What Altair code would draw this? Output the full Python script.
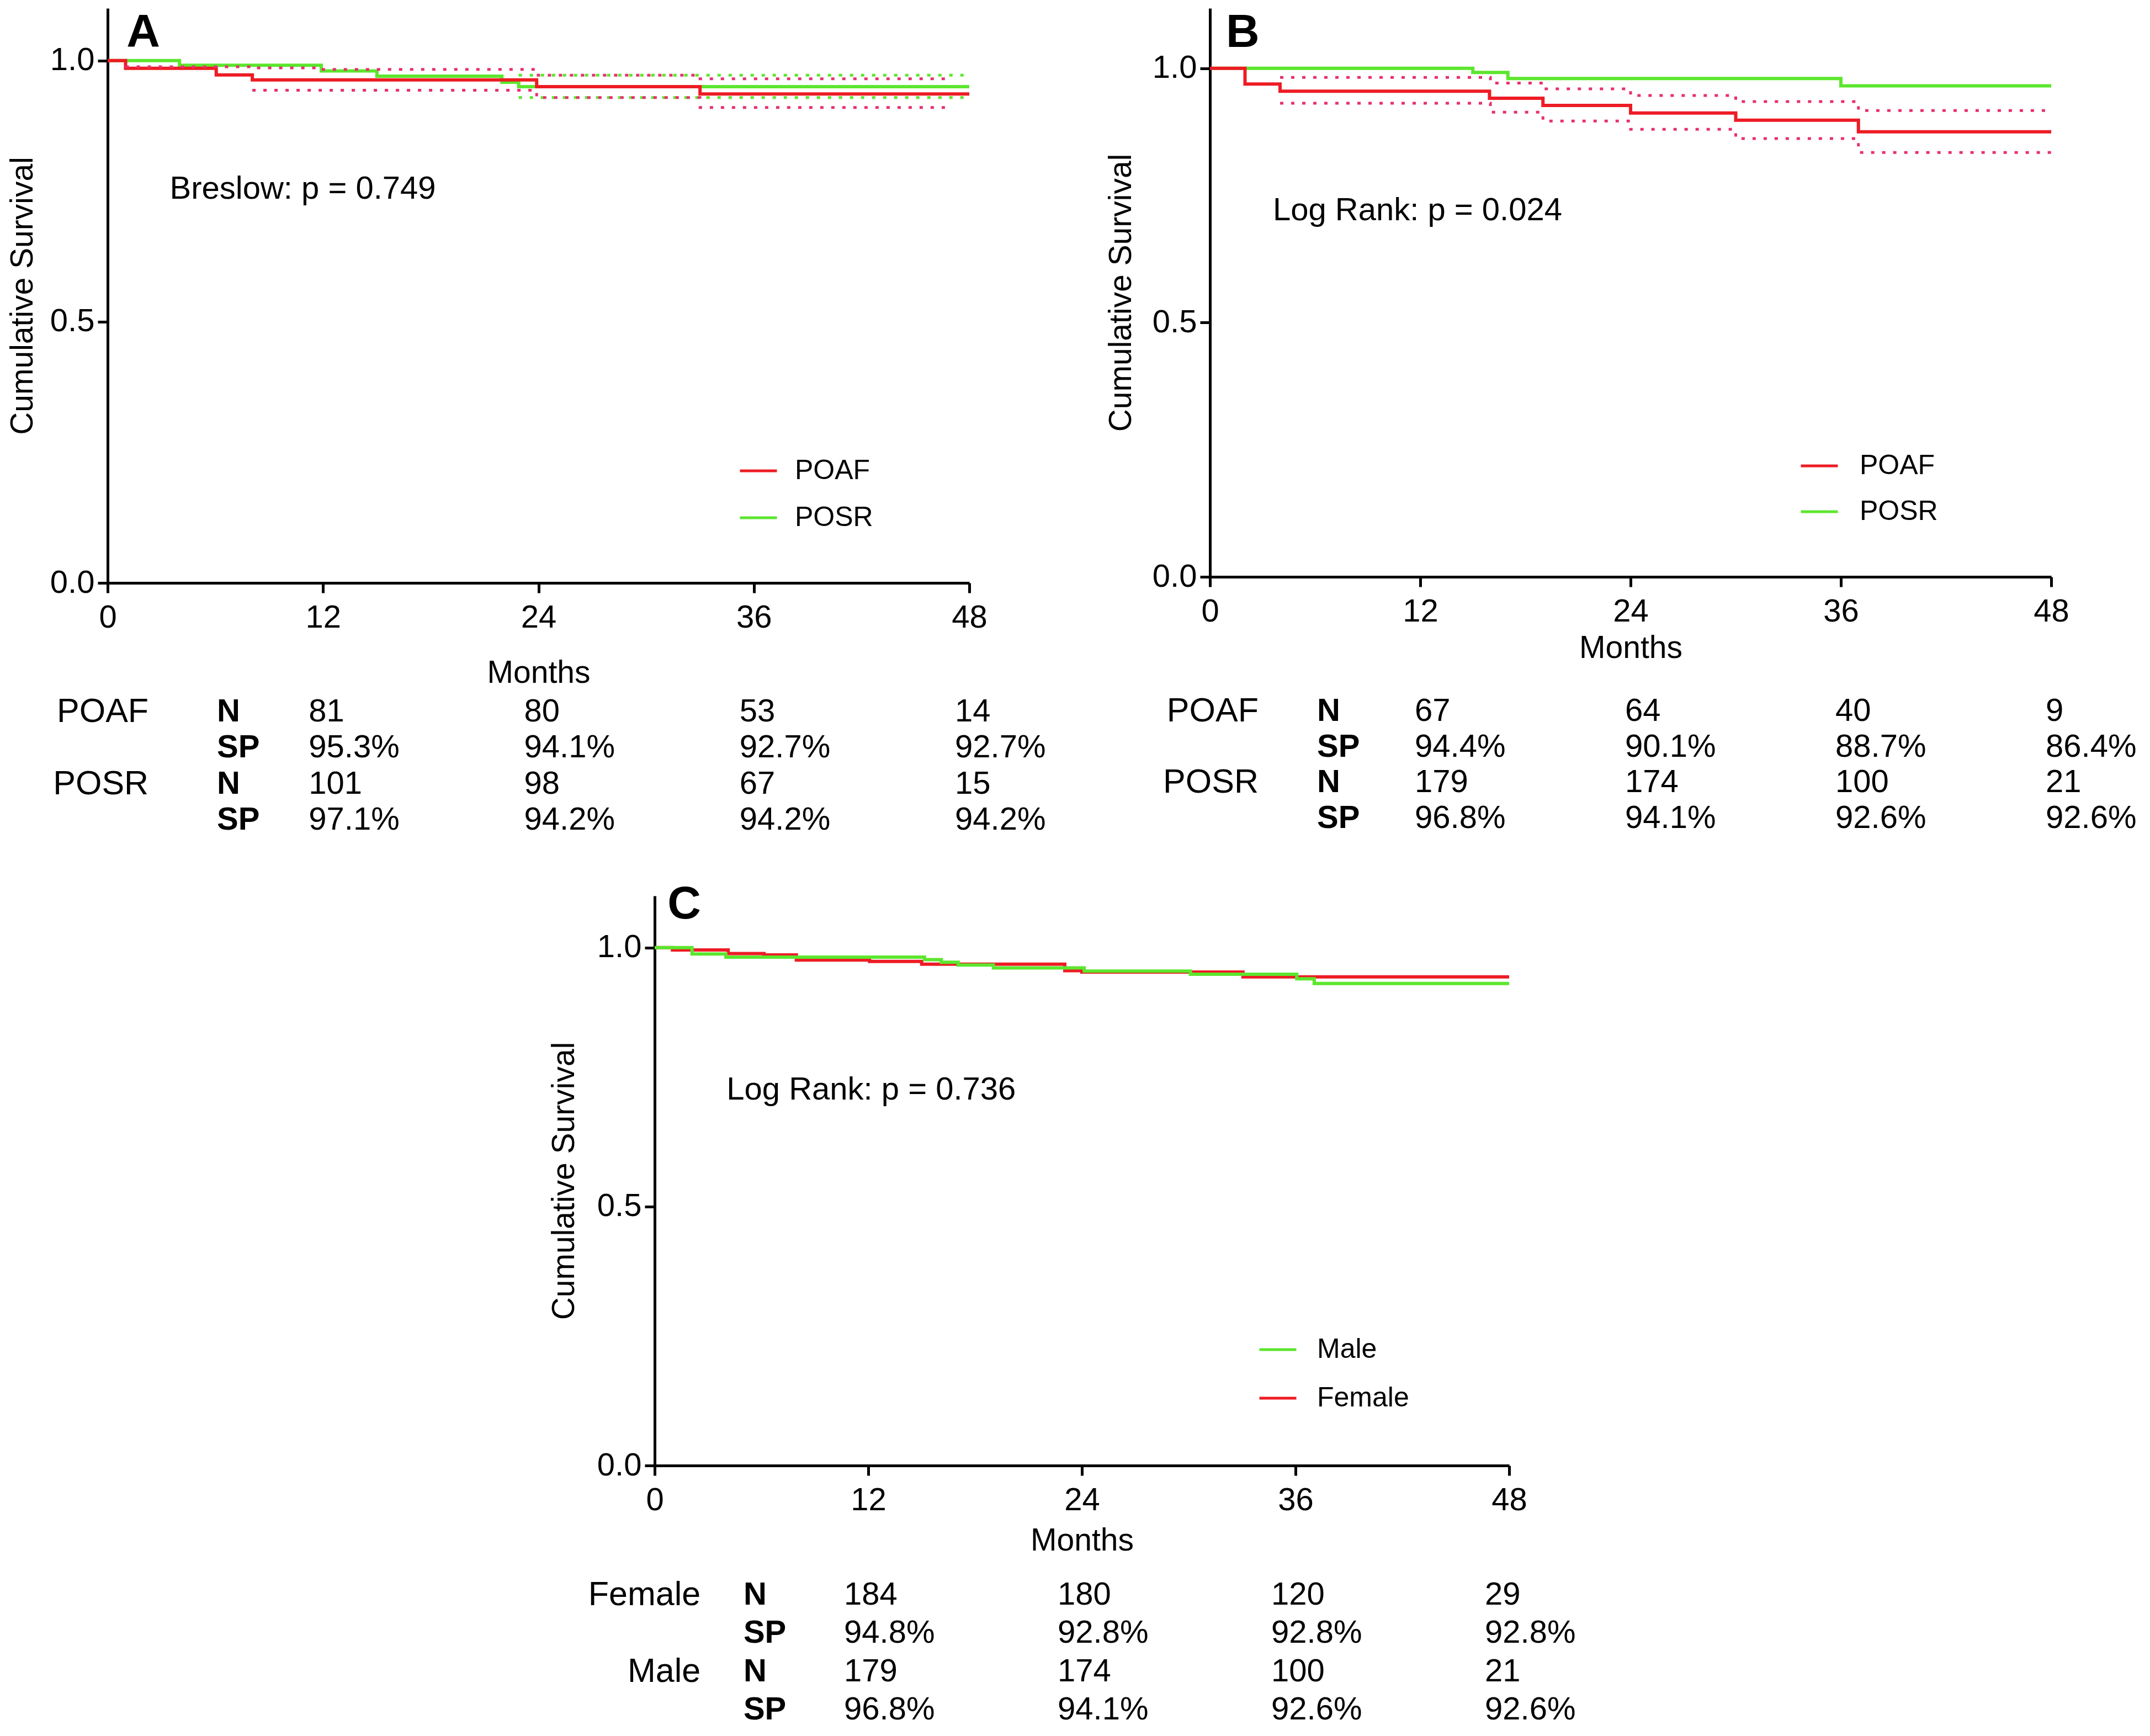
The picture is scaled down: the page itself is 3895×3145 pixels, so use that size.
import altair as alt
import pandas as pd

FONT = "Liberation Sans"
RED = "#ED1C24"
GREEN = "#5CE62E"
RED_CI = "#E8306E"
GREEN_CI = "#5CE62E"

TIMES = [12, 24, 36, 48]

# ---------------- Panel A (POAF vs POSR, Breslow) ----------------
A_POAF_T = [0, 1.0, 6.05, 8.06, 23.9, 33.0, 48]
A_POAF_S = [1.0, 0.985, 0.9725, 0.963, 0.950, 0.936, 0.936]
A_POSR_T = [0, 4.0, 11.9, 15.0, 21.96, 22.9, 48]
A_POSR_S = [1.0, 0.991, 0.980, 0.970, 0.9585, 0.950, 0.950]
A_POAF_UP_T = [1.0, 8.06, 12.0, 23.9, 33.0, 46.9]
A_POAF_UP_S = [0.988, 0.986, 0.983, 0.972, 0.965, 0.965]
A_POAF_LO_T = [8.06, 23.9, 33.0, 46.9]
A_POAF_LO_S = [0.943, 0.929, 0.910, 0.910]
A_POSR_UP_T = [22.9, 48]
A_POSR_UP_S = [0.972, 0.972]
A_POSR_LO_T = [22.9, 48]
A_POSR_LO_S = [0.929, 0.929]
A_GROUPS = ["POAF", "POSR"]
A_N = [["81", "80", "53", "14"], ["101", "98", "67", "15"]]
A_SP = [["95.3%", "94.1%", "92.7%", "92.7%"], ["97.1%", "94.2%", "94.2%", "94.2%"]]
A_TEST = "Breslow: p = 0.749"

# ---------------- Panel B (POAF vs POSR, Log Rank) ----------------
B_POAF_T = [0, 2.0, 4.0, 15.95, 19.0, 24.0, 30.0, 37.0, 48]
B_POAF_S = [1.0, 0.969, 0.955, 0.941, 0.927, 0.912, 0.898, 0.875, 0.875]
B_POSR_T = [0, 15.0, 17.0, 36.0, 48]
B_POSR_S = [1.0, 0.9917, 0.980, 0.9656, 0.9656]
B_POAF_UP_T = [4.0, 16.0, 19.0, 24.0, 30.0, 37.0, 48]
B_POAF_UP_S = [0.982, 0.971, 0.9595, 0.9465, 0.9346, 0.9168, 0.9168]
B_POAF_LO_T = [4.0, 16.0, 19.0, 24.0, 30.0, 37.0, 48]
B_POAF_LO_S = [0.9314, 0.9137, 0.8964, 0.880, 0.8618, 0.8344, 0.8344]
B_GROUPS = ["POAF", "POSR"]
B_N = [["67", "64", "40", "9"], ["179", "174", "100", "21"]]
B_SP = [["94.4%", "90.1%", "88.7%", "86.4%"], ["96.8%", "94.1%", "92.6%", "92.6%"]]
B_TEST = "Log Rank: p = 0.024"

# ---------------- Panel C (Male vs Female, Log Rank) ----------------
C_MALE_T = [0, 2.1, 4.0, 15.16, 16.1, 17.05, 19.03, 24.13, 30.1, 36.07, 37.05, 48]
C_MALE_S = [1.0, 0.9877, 0.9816, 0.977, 0.9717, 0.9664, 0.961, 0.9547, 0.9486, 0.9398, 0.9309, 0.9309]
C_FEMALE_T = [0, 1.0, 4.13, 6.14, 7.96, 12.07, 15.0, 23.04, 24.0, 33.05, 48]
C_FEMALE_S = [1.0, 0.9955, 0.9887, 0.986, 0.976, 0.9734, 0.968, 0.9557, 0.953, 0.9435, 0.9435]
C_GROUPS = ["Female", "Male"]
C_N = [["184", "180", "120", "29"], ["179", "174", "100", "21"]]
C_SP = [["94.8%", "92.8%", "92.8%", "92.8%"], ["96.8%", "94.1%", "92.6%", "92.6%"]]
C_TEST = "Log Rank: p = 0.736"


def curve(t, s, group):
    return pd.DataFrame({"month": t, "surv": s, "group": group})


def band(parts):
    frames = []
    for i, (t, s) in enumerate(parts):
        frames.append(pd.DataFrame({"month": t, "surv": s, "seg": f"s{i}"}))
    return pd.concat(frames, ignore_index=True)


def table_frames(groups, ns, sps, label_x, key_x):
    lab, key, val = [], [], []
    for g, (name, nrow, sprow) in enumerate(zip(groups, ns, sps)):
        r = 2 * g
        lab.append({"month": label_x, "row": r, "txt": name})
        key.append({"month": key_x, "row": r, "txt": "N"})
        key.append({"month": key_x, "row": r + 1, "txt": "SP"})
        for t, n, sp in zip(TIMES, nrow, sprow):
            val.append({"month": t, "row": r, "txt": n})
            val.append({"month": t, "row": r + 1, "txt": sp})
    return pd.DataFrame(lab), pd.DataFrame(key), pd.DataFrame(val)


def panel(cfg):
    xenc = alt.X(
        "month:Q",
        scale=alt.Scale(domain=[0, 48], nice=False, zero=False),
        axis=alt.Axis(values=[0, 12, 24, 36, 48], format="d", title="Months",
                      labelFontSize=58, titleFontSize=57, labelPadding=16,
                      titlePadding=cfg["xtp"], tickSize=18, tickWidth=5,
                      domainWidth=5, labelFlush=False, grid=False),
    )
    yenc = alt.Y(
        "surv:Q",
        scale=alt.Scale(domain=[0, cfg["ymax"]], nice=False, zero=True),
        axis=alt.Axis(values=[0, 0.5, 1.0], format=".1f", title="Cumulative Survival",
                      labelFontSize=58, titleFontSize=57, labelPadding=6,
                      titlePadding=cfg["ytp"], tickSize=18, tickWidth=5,
                      domainWidth=5, grid=False),
    )
    color = alt.Color(
        "group:N",
        scale=alt.Scale(domain=cfg["order"], range=cfg["colors"]),
        legend=alt.Legend(orient="none", legendX=cfg["lx"], legendY=cfg["ly"],
                          title=None, direction="vertical", symbolType="stroke",
                          symbolSize=4489, symbolStrokeWidth=5, labelFontSize=50,
                          labelFont=FONT, labelColor="black", rowPadding=cfg["lrp"],
                          labelOffset=cfg["lo"], labelLimit=600, padding=0),
    )
    layers = []
    for df in cfg["curves"]:
        layers.append(alt.Chart(df).mark_line(interpolate="step-after", strokeWidth=6)
                      .encode(x=xenc, y=yenc, color=color))
    for df, col in cfg["bands"]:
        layers.append(alt.Chart(df).mark_line(interpolate="step-after", strokeWidth=5,
                                              strokeDash=[6, 14], color=col)
                      .encode(x=xenc, y=yenc, detail="seg:N"))
    ann = pd.DataFrame({"month": [cfg["ann_x"]], "surv": [cfg["ann_y"]], "txt": [cfg["test"]]})
    layers.append(alt.Chart(ann).mark_text(align="left", baseline="middle", fontSize=58,
                                           font=FONT, color="black")
                  .encode(x=xenc, y=yenc, text="txt:N"))
    let = pd.DataFrame({"month": [cfg["let_x"]], "surv": [cfg["let_y"]], "txt": [cfg["letter"]]})
    layers.append(alt.Chart(let).mark_text(align="left", baseline="alphabetic", fontSize=84,
                                           fontWeight="bold", font=FONT, color="black")
                  .encode(x=xenc, y=yenc, text="txt:N"))
    plot = alt.layer(*layers)

    lab, key, val = table_frames(cfg["groups"], cfg["n"], cfg["sp"], cfg["lab_x"], cfg["key_x"])
    yrow = alt.Y("row:Q", scale=alt.Scale(domain=[0, 3], range=cfg["rows"]), axis=None)
    t1 = alt.Chart(lab).mark_text(align="right", baseline="middle", fontSize=61, font=FONT,
                                  color="black").encode(x=xenc, y=yrow, text="txt:N")
    t2 = alt.Chart(key).mark_text(align="left", baseline="middle", fontSize=58, font=FONT,
                                  fontWeight="bold", color="black").encode(x=xenc, y=yrow, text="txt:N")
    t3 = alt.Chart(val).mark_text(align="left", baseline="middle", fontSize=58, font=FONT,
                                  dx=cfg["vdx"], color="black").encode(x=xenc, y=yrow, text="txt:N")
    table = alt.layer(t1, t2, t3)
    return (alt.layer(plot, table).resolve_scale(y="independent")
            .properties(width=cfg["W"], height=cfg["H"]))


cfgA = dict(
    W=1561, H=1041, ymax=1.1, xtp=43, ytp=20,
    order=["POAF", "POSR"], colors=[RED, GREEN],
    curves=[curve(A_POSR_T, A_POSR_S, "POSR"), curve(A_POAF_T, A_POAF_S, "POAF")],
    bands=[(band([(A_POSR_UP_T, A_POSR_UP_S), (A_POSR_LO_T, A_POSR_LO_S)]), GREEN_CI),
           (band([(A_POAF_UP_T, A_POAF_UP_S), (A_POAF_LO_T, A_POAF_LO_S)]), RED_CI)],
    lx=1143, ly=802, lrp=24, lo=30,
    test=A_TEST, ann_x=3.46, ann_y=0.753,
    letter="A", let_x=1.05, let_y=1.026,
    groups=A_GROUPS, n=A_N, sp=A_SP, lab_x=2.28, key_x=6.09, vdx=-26,
    rows=[1274.6, 1471.3],
)
cfgB = dict(
    W=1524, H=1030, ymax=1.118, xtp=9, ytp=27,
    order=["POAF", "POSR"], colors=[RED, GREEN],
    curves=[curve(B_POSR_T, B_POSR_S, "POSR"), curve(B_POAF_T, B_POAF_S, "POAF")],
    bands=[(band([(B_POAF_UP_T, B_POAF_UP_S), (B_POAF_LO_T, B_POAF_LO_S)]), RED_CI)],
    lx=1068, ly=793, lrp=22, lo=37,
    test=B_TEST, ann_x=3.59, ann_y=0.72,
    letter="B", let_x=0.91, let_y=1.042,
    groups=B_GROUPS, n=B_N, sp=B_SP, lab_x=2.77, key_x=6.11, vdx=-10,
    rows=[1274.3, 1467.6],
)
cfgC = dict(
    W=1548, H=1032, ymax=1.1, xtp=16, ytp=30,
    order=["Male", "Female"], colors=[GREEN, RED],
    curves=[curve(C_FEMALE_T, C_FEMALE_S, "Female"), curve(C_MALE_T, C_MALE_S, "Male")],
    bands=[],
    lx=1093, ly=786, lrp=27, lo=35,
    test=C_TEST, ann_x=4.04, ann_y=0.725,
    letter="C", let_x=0.72, let_y=1.056,
    groups=C_GROUPS, n=C_N, sp=C_SP, lab_x=2.58, key_x=4.99, vdx=-44,
    rows=[1267.1, 1475.1],
)

pA = panel(cfgA)
pB = panel(cfgB)
pC = panel(cfgC)

spacer = alt.Chart(pd.DataFrame({"month": [0]})).mark_point(opacity=0).properties(width=798, height=1)

top = alt.hconcat(pA, pB, spacing=107).resolve_scale(color="independent")
bottom = alt.hconcat(spacer, pC, spacing=0).resolve_scale(color="independent")
chart = (alt.vconcat(top, bottom, spacing=81)
         .resolve_scale(color="independent")
         .properties(padding={"left": 4, "top": 7, "right": 4, "bottom": 4}, background="white")
         .configure_view(stroke=None)
         .configure_axis(domainColor="black", tickColor="black", labelColor="black",
                         titleColor="black", labelFont=FONT, titleFont=FONT,
                         titleFontWeight="normal"))

chart.save("out.html", embed_options={"renderer": "svg", "actions": False})
